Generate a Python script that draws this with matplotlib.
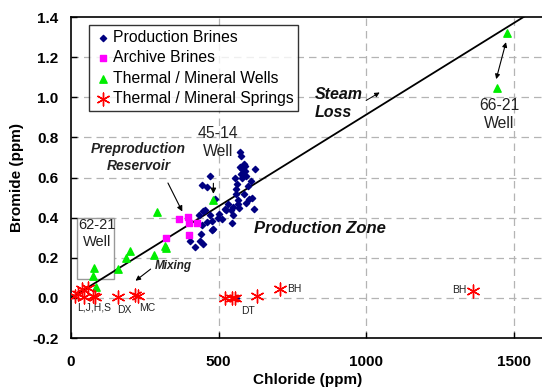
import numpy as np
import matplotlib.pyplot as plt
from matplotlib.patches import Rectangle

plt.rcParams['font.family'] = ['Liberation Sans', 'DejaVu Sans']

# Production brines (chloride, bromide in ppm)
prod_cl = [573, 576, 584, 571, 580, 588, 624, 471, 443, 462, 556, 562, 558, 610,
           567, 604, 593, 621, 569, 525, 542, 548, 448, 435, 471, 496, 477, 545,
           443, 482, 440, 437, 420, 446, 403, 477, 488, 522, 530, 560, 575, 578,
           590, 600, 565, 550, 512, 455, 460, 500, 585, 612, 592, 558]
prod_br = [0.727, 0.705, 0.668, 0.650, 0.640, 0.655, 0.643, 0.610, 0.565, 0.555,
           0.600, 0.568, 0.543, 0.585, 0.490, 0.493, 0.472, 0.443, 0.447, 0.440,
           0.438, 0.415, 0.435, 0.413, 0.413, 0.400, 0.385, 0.372, 0.365, 0.343,
           0.320, 0.285, 0.255, 0.270, 0.285, 0.340, 0.493, 0.443, 0.470, 0.520,
           0.620, 0.600, 0.630, 0.560, 0.470, 0.455, 0.395, 0.440, 0.380, 0.420,
           0.520, 0.500, 0.610, 0.000]

# Archive brines
arch_cl = [364, 395, 401, 426, 401, 322]
arch_br = [0.393, 0.405, 0.372, 0.372, 0.313, 0.300]

# Thermal / mineral wells
well_cl = [1477, 1441, 290, 482, 319, 322, 281, 200, 186, 160, 78, 76, 85]
well_br = [1.32, 1.048, 0.43, 0.49, 0.26, 0.25, 0.215, 0.235, 0.20, 0.143, 0.15, 0.11, 0.055]

# Thermal / mineral springs
spr_cl = [14, 25, 36, 45, 59, 73, 80, 160, 217, 226, 522, 545, 556, 631, 706, 1360]
spr_br = [0.010, 0.020, 0.043, 0.005, 0.050, 0.010, 0.005, 0.005, 0.013, 0.010,
          0.000, 0.000, 0.000, 0.010, 0.043, 0.035]

# Steam loss trend line
line_cl = [0, 1600]
line_br = [0, 1600 * 1.4 / 1532]

fig = plt.figure(figsize=(5.42, 3.91), dpi=100)
ax = fig.add_axes([0.131, 0.1355, 0.872, 0.821])

ax.set_xlim(0, 1600)
ax.set_ylim(-0.2, 1.4)
ax.set_xticks([0, 500, 1000, 1500])
ax.set_yticks(np.arange(-0.2, 1.41, 0.2))
ax.set_yticklabels(['-0.2', '0.0', '0.2', '0.4', '0.6', '0.8', '1.0', '1.2', '1.4'])
ax.tick_params(direction='in', length=4, width=1, labelsize=11)
ax.tick_params(axis='x', pad=12)
ax.tick_params(axis='y', pad=9)
for lab in ax.get_xticklabels() + ax.get_yticklabels():
    lab.set_fontweight('bold')

gl = dict(color='#b4b4b4', linestyle=(0, (6, 4)), linewidth=0.9, zorder=0)
for x in [500, 1000, 1500]:
    ax.axvline(x, **gl)
for y in [0.0, 0.2, 0.4, 0.6, 0.8, 1.0, 1.2]:
    ax.axhline(y, **gl)

for s in ax.spines.values():
    s.set_linewidth(1.2)

ax.plot(line_cl, line_br, color='black', linewidth=1.3, zorder=2)

ax.scatter(prod_cl, prod_br, marker='D', s=10, color='#000080', zorder=3,
           label='Production Brines')
ax.scatter(arch_cl, arch_br, marker='s', s=22, color='#ff00ff', zorder=3,
           label='Archive Brines')
ax.scatter(well_cl, well_br, marker='^', s=28, color='#00ee00', zorder=4,
           label='Thermal / Mineral Wells')
ax.scatter(spr_cl, spr_br, marker=(6, 2, 0), s=85, color='red', linewidths=1.0,
           zorder=4, label='Thermal / Mineral Springs')

leg = ax.legend(loc='upper left', bbox_to_anchor=(0.039, 0.975), fontsize=11.3,
                frameon=True, fancybox=False, edgecolor='black',
                handletextpad=0.1, handlelength=1.1, borderpad=0.3,
                labelspacing=0.35, borderaxespad=0)
leg.get_frame().set_linewidth(1.0)

# spring labels
small = dict(fontsize=7.5, color='#222222')
ax.text(20, -0.05, 'L,J,H,S', ha='left', va='center', **small)
ax.text(181, -0.06, 'DX', ha='center', va='center', **small)
ax.text(259, -0.05, 'MC', ha='center', va='center', **small)
ax.text(599, -0.065, 'DT', ha='center', va='center', **small)
ax.text(732, 0.045, 'BH', ha='left', va='center', **small)
ax.text(1338, 0.04, 'BH', ha='right', va='center', **small)

# annotations
ax.add_patch(Rectangle((20, 0.095), 126, 0.305, facecolor='white',
                       edgecolor='#999999', linewidth=1.0, zorder=1))
ax.text(87, 0.32, '62-21\nWell', ha='center', va='center', fontsize=10.5,
        color='#222222', linespacing=1.25, zorder=1.5)

ax.annotate('', xy=(482, 0.505), xytext=(482, 0.585),
            arrowprops=dict(arrowstyle='-|>', color='black', lw=0.8, mutation_scale=8))
ax.text(499, 0.775, '45-14\nWell', ha='center', va='center', fontsize=11.3,
        color='#222222', linespacing=1.2)

ax.text(228, 0.70, 'Preproduction\nReservoir', ha='center', va='center', fontsize=10,
        fontweight='bold', style='italic', color='#222222', linespacing=1.35)
ax.annotate('', xy=(381, 0.418), xytext=(324, 0.585),
            arrowprops=dict(arrowstyle='-|>', color='black', lw=0.8, mutation_scale=8))

ax.text(825, 0.968, 'Steam\nLoss', ha='left', va='center', fontsize=11.5,
        fontweight='bold', style='italic', color='#111111', linespacing=1.2)
ax.annotate('', xy=(1053, 1.031), xytext=(991, 0.977),
            arrowprops=dict(arrowstyle='-|>', color='black', lw=0.7, mutation_scale=7))

ax.text(1451, 0.915, '66-21\nWell', ha='center', va='center', fontsize=11.3,
        color='#222222', linespacing=1.2)
ax.annotate('', xy=(1437, 1.077), xytext=(1475, 1.288),
            arrowprops=dict(arrowstyle='<|-|>', color='black', lw=0.8, mutation_scale=7))

ax.text(347, 0.16, 'Mixing', ha='center', va='center', fontsize=8.5,
        fontweight='bold', style='italic', color='#222222')
ax.annotate('', xy=(211, 0.077), xytext=(277, 0.152),
            arrowprops=dict(arrowstyle='-|>', color='black', lw=0.8, mutation_scale=7))

ax.text(844, 0.345, 'Production Zone', ha='center', va='center', fontsize=12,
        fontweight='bold', style='italic', color='#111111')

ax.set_xlabel('Chloride (ppm)', fontsize=11, fontweight='bold', labelpad=3)
ax.set_ylabel('Bromide (ppm)', fontsize=11, fontweight='bold', labelpad=6)

fig.savefig('out.png', dpi=100)
